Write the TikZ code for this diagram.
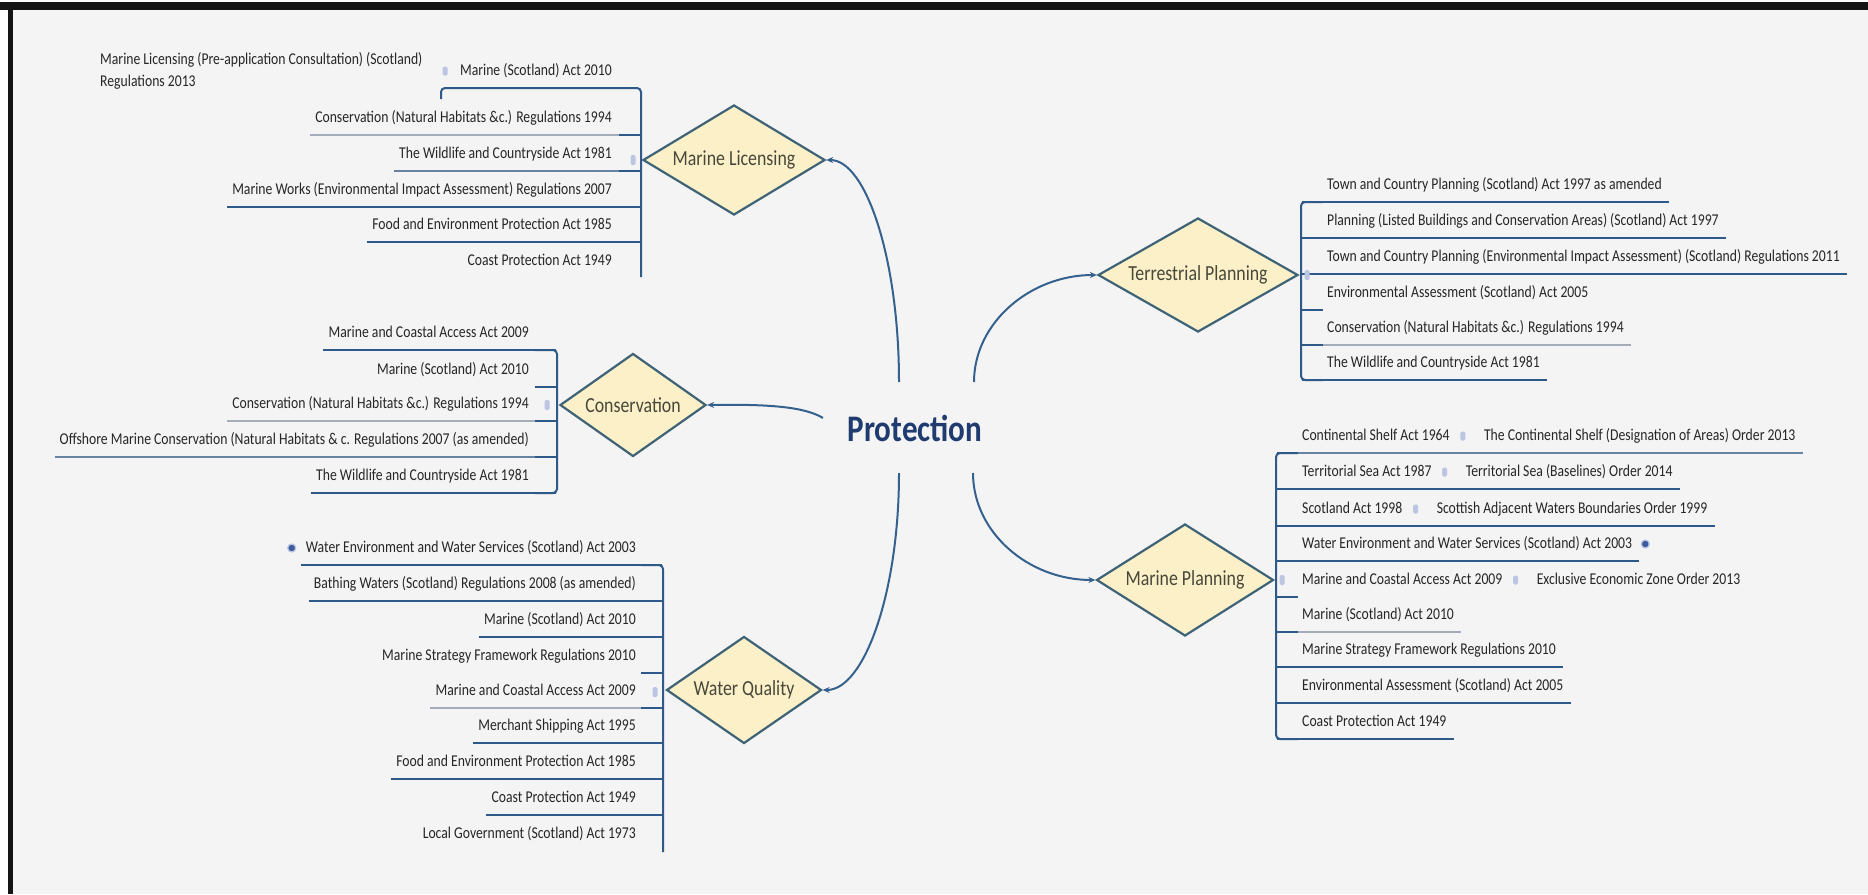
\documentclass[tikz,border=0pt]{standalone}
\usepackage{fontspec}
\setmainfont{Carlito}[FakeStretch=0.83]
\usetikzlibrary{shapes.geometric,arrows.meta,calc}

\definecolor{bgpaper}{HTML}{F4F4F4}
\definecolor{framek}{HTML}{141414}
\definecolor{linkblue}{HTML}{35618F}
\definecolor{spineblue}{HTML}{2E5A8A}
\definecolor{ulgrey}{HTML}{A3ACB8}
\colorlet{ulmid}{ulgrey!50!spineblue}
\definecolor{leaftext}{HTML}{262626}
\definecolor{topicfill}{HTML}{FCF0C8}
\definecolor{topicedge}{HTML}{3F6376}
\definecolor{topictext}{HTML}{47473A}
\definecolor{roottext}{HTML}{1F3B70}
\definecolor{markerlight}{HTML}{BCC5E2}
\definecolor{markerdark}{HTML}{3C5C9E}

\begin{document}
\begin{tikzpicture}[x=1pt,y=-1pt,
  leaf/.style={font=\fontsize{16.5}{18}\selectfont, text=leaftext, inner sep=0pt, text height=12pt, text depth=3.5pt},
  note/.style={font=\fontsize{16.5}{22}\selectfont, text=leaftext, inner sep=0pt, align=left},
  topic/.style={diamond, draw=topicedge, fill=topicfill, line width=2.2pt, inner sep=0pt,
    font=\fontsize{21.5}{24}\selectfont, text=topictext},
  root/.style={font=\fontsize{37.5}{40}\selectfont\bfseries, text=roottext, inner sep=0pt},
  link/.style={draw=linkblue, line width=2pt, -{Stealth[length=7pt,width=6pt]}},
  spine/.style={draw=spineblue, line width=2pt, rounded corners=4pt},
  uline/.style={line width=2pt},
  stub/.style={line width=2.2pt},
  mk/.style={fill=markerlight, inner sep=0pt, minimum width=5pt, minimum height=10pt, rounded corners=1.5pt},
  mkdark/.style={circle, fill=markerdark, draw=markerlight, line width=1.2pt, inner sep=0pt, minimum size=8pt},
]
% page, frame
\useasboundingbox (0,0) rectangle (1868,894);
\fill[white] (0,0) rectangle (1868,894);
\fill[bgpaper] (13,10) rectangle (1868,894);
\fill[framek] (0,2) rectangle (1868,10);
\fill[framek] (8,2) rectangle (13,894);

% central topic and main branches
\node[root] (prot) at (915,428) {Protection};
\node[topic, aspect=1.65, minimum width=182pt, minimum height=110pt] (ml) at (734,160) {Marine Licensing};
\node[topic, aspect=1.42, minimum width=146pt, minimum height=103pt] (cons) at (633,405) {Conservation};
\node[topic, aspect=1.45, minimum width=155pt, minimum height=107pt] (wq) at (744,690) {Water Quality};
\node[topic, aspect=1.75, minimum width=200pt, minimum height=114pt] (tp) at (1198,275) {Terrestrial Planning};
\node[topic, aspect=1.58, minimum width=177pt, minimum height=112pt] (mp) at (1185,580) {Marine Planning};

\coordinate (pnw) at (899,382);
\coordinate (pne) at (974,382);
\coordinate (psw) at (899,473);
\coordinate (pse) at (973,473);
\coordinate (pw) at (823,418);
\draw[link] (pnw) .. controls (899,259) and (866,160) .. (ml.east);
\draw[link] (psw) .. controls (899,593) and (864,690) .. (wq.east);
\draw[link] (pne) .. controls (974,323) and (1030,275) .. (tp.west);
\draw[link] (pse) .. controls (973,532) and (1028,580) .. (mp.west);
\draw[link] (pw) .. controls (805,407) and (770,404) .. (cons.east);

% ---------- Marine Licensing ----------
\coordinate (mlsp) at (641,0);
\node[leaf, anchor=east] (ml1) at (612,71) {Marine (Scotland) Act 2010};
\node[mk, minimum height=9pt] (ml1m) at (445,71) {};
\node[note, anchor=west] (mlnote) at (100,71) {Marine Licensing (Pre-application Consultation) (Scotland)\\Regulations 2013};
\foreach \nm/\yy/\tx/\uc/\sc in {
  ml2/118/{Conservation (Natural Habitats \&c.) Regulations 1994}/ulgrey/spineblue,
  ml3/154/{The Wildlife and Countryside Act 1981}/ulmid/spineblue,
  ml4/190/{Marine Works (Environmental Impact Assessment) Regulations 2007}/spineblue/spineblue,
  ml5/225/{Food and Environment Protection Act 1985}/spineblue/spineblue,
  ml6/261/{Coast Protection Act 1949}/none/none}{
  \node[leaf, anchor=east] (\nm) at (612,\yy) {\tx};
  \coordinate (u) at ($(\nm.west)+(-5,17)$);
  \draw[uline, draw=\uc] (u) -- ($(u -| mlsp)+(-1,0)$);
  \draw[stub, draw=\sc] ($(u -| mlsp)+(-22,0)$) -- ($(u -| mlsp)+(-1,0)$);
}
\draw[spine] (441,99) -- (441,88) -- (641,88) -- (641,277);
\node[mk] (mlm) at (633,160) {};

% ---------- Conservation ----------
\coordinate (cosp) at (557,0);
\foreach \nm/\yy/\tx/\uc/\sc in {
  co1/333/{Marine and Coastal Access Act 2009}/spineblue/spineblue,
  co2/370/{Marine (Scotland) Act 2010}/none/spineblue,
  co3/404/{Conservation (Natural Habitats \&c.) Regulations 1994}/ulgrey/spineblue,
  co4/440/{Offshore Marine Conservation (Natural Habitats \& c. Regulations 2007 (as amended)}/ulmid/spineblue,
  co5/476/{The Wildlife and Countryside Act 1981}/spineblue/spineblue}{
  \node[leaf, anchor=east] (\nm) at (529,\yy) {\tx};
  \coordinate (u) at ($(\nm.west)+(-5,17)$);
  \draw[uline, draw=\uc] (u) -- ($(u -| cosp)+(-1,0)$);
  \draw[stub, draw=\sc] ($(u -| cosp)+(-22,0)$) -- ($(u -| cosp)+(-1,0)$);
}
\draw[spine] (535,350) -- (557,350) -- (557,493) -- (535,493);
\node[mk] (com) at (547,405) {};

% ---------- Water Quality ----------
\coordinate (wqsp) at (663,0);
\foreach \nm/\yy/\tx/\uc/\sc in {
  wq1/548/{Water Environment and Water Services (Scotland) Act 2003}/spineblue/spineblue,
  wq2/584/{Bathing Waters (Scotland) Regulations 2008 (as amended)}/spineblue/spineblue,
  wq3/620/{Marine (Scotland) Act 2010}/spineblue/spineblue,
  wq4/656/{Marine Strategy Framework Regulations 2010}/none/spineblue,
  wq5/691/{Marine and Coastal Access Act 2009}/ulgrey/spineblue,
  wq6/726/{Merchant Shipping Act 1995}/spineblue/spineblue,
  wq7/762/{Food and Environment Protection Act 1985}/spineblue/spineblue,
  wq8/798/{Coast Protection Act 1949}/spineblue/spineblue,
  wq9/834/{Local Government (Scotland) Act 1973}/none/none}{
  \node[leaf, anchor=east] (\nm) at (636,\yy) {\tx};
  \coordinate (u) at ($(\nm.west)+(-5,17)$);
  \draw[uline, draw=\uc] (u) -- ($(u -| wqsp)+(-1,0)$);
  \draw[stub, draw=\sc] ($(u -| wqsp)+(-22,0)$) -- ($(u -| wqsp)+(-1,0)$);
}
\draw[spine] (641,565) -- (663,565) -- (663,852);
\node[mkdark] (wq1m) at ($(wq1.west)+(-14,0)$) {};
\node[mk] (wqm) at (655,692) {};

% ---------- Terrestrial Planning ----------
\coordinate (tpsp) at (1301,0);
\foreach \nm/\yy/\tx/\uc/\sc in {
  tp1/185/{Town and Country Planning (Scotland) Act 1997 as amended}/spineblue/spineblue,
  tp2/221/{Planning (Listed Buildings and Conservation Areas) (Scotland) Act 1997}/spineblue/spineblue,
  tp3/257/{Town and Country Planning (Environmental Impact Assessment) (Scotland) Regulations 2011}/spineblue/spineblue,
  tp4/293/{Environmental Assessment (Scotland) Act 2005}/none/spineblue,
  tp5/328/{Conservation (Natural Habitats \&c.) Regulations 1994}/ulgrey/spineblue,
  tp6/363/{The Wildlife and Countryside Act 1981}/spineblue/spineblue}{
  \node[leaf, anchor=west] (\nm) at (1327,\yy) {\tx};
  \coordinate (u) at ($(\nm.east)+(7,17)$);
  \draw[uline, draw=\uc] ($(u -| tpsp)+(1,0)$) -- (u);
  \draw[stub, draw=\sc] ($(u -| tpsp)+(1,0)$) -- ($(u -| tpsp)+(22,0)$);
}
\draw[spine] (1323,202) -- (1301,202) -- (1301,380) -- (1323,380);
\node[mk] (tpm) at (1307,275) {};

% ---------- Marine Planning ----------
\coordinate (mpsp) at (1276,0);
% rows carrying a second, linked instrument
\node[leaf, anchor=west] (mp1) at (1302,436) {Continental Shelf Act 1964};
\node[mk, minimum height=9pt] (mp1m) at ($(mp1.east)+(13,0)$) {};
\node[leaf, anchor=west] (mp1b) at ($(mp1.east)+(34,0)$) {The Continental Shelf (Designation of Areas) Order 2013};
\node[leaf, anchor=west] (mp2) at (1302,472) {Territorial Sea Act 1987};
\node[mk, minimum height=9pt] (mp2m) at ($(mp2.east)+(13,0)$) {};
\node[leaf, anchor=west] (mp2b) at ($(mp2.east)+(34,0)$) {Territorial Sea (Baselines) Order 2014};
\node[leaf, anchor=west] (mp3) at (1302,509) {Scotland Act 1998};
\node[mk, minimum height=9pt] (mp3m) at ($(mp3.east)+(13,0)$) {};
\node[leaf, anchor=west] (mp3b) at ($(mp3.east)+(34,0)$) {Scottish Adjacent Waters Boundaries Order 1999};
\node[leaf, anchor=west] (mp4b) at (1302,544) {Water Environment and Water Services (Scotland) Act 2003};
\node[mkdark] (mp4m) at ($(mp4b.east)+(13,0)$) {};
\node[leaf, anchor=west] (mp5) at (1302,580) {Marine and Coastal Access Act 2009};
\node[mk, minimum height=9pt] (mp5m) at ($(mp5.east)+(13,0)$) {};
\node[leaf, anchor=west] (mp5b) at ($(mp5.east)+(34,0)$) {Exclusive Economic Zone Order 2013};
\node[leaf, anchor=west] (mp6b) at (1302,615) {Marine (Scotland) Act 2010};
\node[leaf, anchor=west] (mp7b) at (1302,650) {Marine Strategy Framework Regulations 2010};
\node[leaf, anchor=west] (mp8b) at (1302,686) {Environmental Assessment (Scotland) Act 2005};
\node[leaf, anchor=west] (mp9b) at (1302,722) {Coast Protection Act 1949};
\foreach \nm/\uc in {mp1b/ulmid, mp2b/spineblue, mp3b/spineblue, mp4b/spineblue, mp5b/none,
  mp6b/ulgrey, mp7b/spineblue, mp8b/spineblue, mp9b/spineblue}{
  \coordinate (u) at ($(\nm.east)+(7,17)$);
  \draw[uline, draw=\uc] ($(u -| mpsp)+(1,0)$) -- (u);
  \draw[stub, draw=spineblue] ($(u -| mpsp)+(1,0)$) -- ($(u -| mpsp)+(22,0)$);
}
\draw[spine] (1298,453) -- (1276,453) -- (1276,739) -- (1298,739);
\node[mk] (mpm) at (1282,580) {};
\end{tikzpicture}
\end{document}
